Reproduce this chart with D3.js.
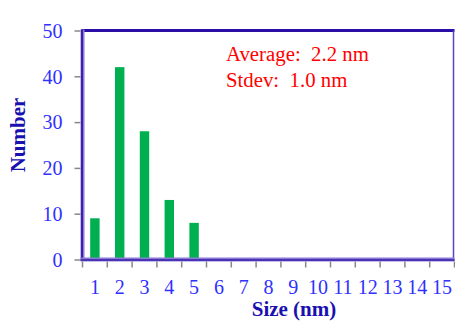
<!DOCTYPE html>
<html><head><meta charset="utf-8">
<script src="https://cdn.jsdelivr.net/npm/d3@7"></script>
<style>
html,body{margin:0;padding:0;background:#fff;}
svg{display:block;}
text{font-family:"Liberation Serif","Times New Roman",serif;}
</style></head>
<body>
<svg id="chart" width="455" height="321"></svg>
<script>
const categories = ["1","2","3","4","5","6","7","8","9","10","11","12","13","14","15"];
const counts = [9, 42, 28, 13, 8, 0, 0, 0, 0, 0, 0, 0, 0, 0, 0];
const yTicks = [0, 10, 20, 30, 40, 50];
const statLines = ["Average:  2.2 nm", "Stdev:  1.0 nm"];
const xTitle = "Size (nm)";
const yTitle = "Number";

const svg = d3.select("#chart");
const L = 82.5, R = 454.5, T = 30.5, B = 259.5;

const x = d3.scaleBand().domain(categories).range([L, R]).paddingInner(0.62).paddingOuter(0.31);
const y = d3.scaleLinear().domain([0, 50]).range([B, T]);

// bars
svg.append("g").selectAll("rect").data(counts).join("rect")
  .attr("x", (d, i) => x(categories[i]))
  .attr("width", x.bandwidth())
  .attr("y", d => y(d))
  .attr("height", d => B - y(d))
  .attr("fill", "#00b050");

// frame
svg.append("line").attr("x1", L - 1).attr("x2", R).attr("y1", T).attr("y2", T)
  .attr("stroke", "#2a0ea6").attr("stroke-width", 3);
svg.append("line").attr("x1", R - 1).attr("x2", R - 1).attr("y1", T).attr("y2", B)
  .attr("stroke", "#5b44c4").attr("stroke-width", 1.5);
svg.append("line").attr("x1", L).attr("x2", L).attr("y1", T - 1).attr("y2", B + 1)
  .attr("stroke", "#8a7ad6").attr("stroke-width", 4);
svg.append("line").attr("x1", L - 0.5).attr("x2", L - 0.5).attr("y1", T - 1).attr("y2", B + 1)
  .attr("stroke", "#3c1fae").attr("stroke-width", 2);
svg.append("line").attr("x1", L - 2).attr("x2", R).attr("y1", B).attr("y2", B)
  .attr("stroke", "#8a7ad6").attr("stroke-width", 4);
svg.append("line").attr("x1", L - 2).attr("x2", R).attr("y1", B + 0.5).attr("y2", B + 0.5)
  .attr("stroke", "#4a33b4").attr("stroke-width", 2);

// y axis
const yAxis = svg.append("g").attr("transform", `translate(${L - 2},0)`)
  .call(d3.axisLeft(y).tickValues(yTicks).tickSize(6).tickPadding(12));
yAxis.select(".domain").remove();
yAxis.selectAll(".tick line").attr("stroke", "#888").attr("stroke-width", 1.5);
yAxis.selectAll(".tick text").attr("fill", "#3030ff").attr("font-size", 20)
  .attr("font-family", "'Liberation Serif', serif").attr("dy", "0.34em");

// x axis: labels at band centers, ticks at band boundaries
const step = x.step();
const bounds = categories.map(c => x(c) + x.bandwidth() / 2 - step / 2).concat([x(categories[categories.length - 1]) + x.bandwidth() / 2 + step / 2]);
svg.append("g").selectAll("line").data(bounds).join("line")
  .attr("x1", d => d).attr("x2", d => d).attr("y1", B + 2).attr("y2", B + 8)
  .attr("stroke", "#888").attr("stroke-width", 1.5);
const xAxis = svg.append("g").attr("transform", `translate(0,${B})`)
  .call(d3.axisBottom(x).tickSize(0).tickPadding(20));
xAxis.select(".domain").remove();
xAxis.selectAll(".tick text").attr("fill", "#3030ff").attr("font-size", 20)
  .attr("font-family", "'Liberation Serif', serif");

// titles
svg.append("text").attr("x", 294).attr("y", 316).attr("text-anchor", "middle")
  .attr("font-size", 21).attr("font-weight", "bold").attr("fill", "#1a0fb0").text(xTitle);
svg.append("text").attr("transform", "translate(25,135) rotate(-90)").attr("text-anchor", "middle")
  .attr("font-size", 21).attr("font-weight", "bold").attr("fill", "#1a0fb0").text(yTitle);

// stats text
svg.append("g").selectAll("text").data(statLines).join("text")
  .attr("x", 226).attr("y", (d, i) => 61 + i * 25.5)
  .attr("font-size", 20.8).attr("fill", "#ff0000").attr("xml:space", "preserve")
  .style("white-space", "pre").text(d => d);
</script>
</body></html>
